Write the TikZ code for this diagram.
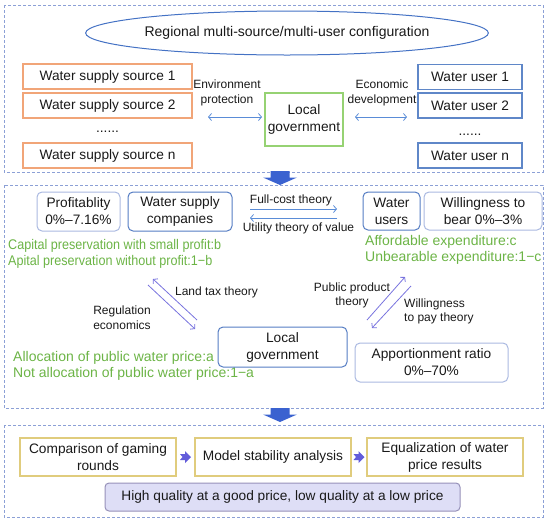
\documentclass[tikz,border=0pt]{standalone}
\usepackage{fontspec}
\setmainfont{Liberation Sans}
\newfontfamily\narrowsans[FakeStretch=0.9]{Liberation Sans}
\usetikzlibrary{positioning,arrows.meta,shapes.geometric,calc}
\definecolor{panelline}{RGB}{140,160,214}
\definecolor{ellblue}{RGB}{68,114,196}
\definecolor{srcorange}{RGB}{241,165,120}
\definecolor{userblue}{RGB}{95,135,200}
\definecolor{govgreen}{RGB}{150,210,115}
\definecolor{notegreen}{RGB}{108,180,70}
\definecolor{strongbox}{RGB}{85,125,195}
\definecolor{lightbox}{RGB}{170,185,225}
\definecolor{goldbox}{RGB}{224,204,125}
\definecolor{barfill}{RGB}{222,222,246}
\definecolor{barline}{RGB}{150,145,185}
\definecolor{bigblue}{RGB}{58,98,208}
\definecolor{stepblue}{RGB}{98,92,218}
\definecolor{linkblue}{RGB}{90,140,215}
\definecolor{diagblue}{RGB}{120,115,222}
\definecolor{inkgray}{RGB}{25,25,25}
\newcommand\boxfont{\fontsize{13.7}{17}\selectfont}
\newcommand\lblfont{\fontsize{12}{14.5}\selectfont}
\newcommand\notefont{\fontsize{14}{16}\selectfont}
\tikzset{
  panel/.style={draw=panelline, line width=0.9pt, dash pattern=on 3pt off 2pt},
  srcbox/.style={draw=srcorange, line width=1.1pt, minimum width=169, minimum height=25, inner sep=1pt, font=\boxfont, text=inkgray},
  userbox/.style={draw=userblue, line width=1.1pt, minimum width=104, minimum height=25, inner sep=1pt, font=\boxfont, text=inkgray},
  govbox/.style={draw=govgreen, line width=1.1pt, minimum width=78, minimum height=53, inner sep=1pt, align=center, font=\boxfont, text=inkgray},
  rbox/.style={draw=strongbox, line width=1pt, rounded corners=5pt, minimum height=39, inner sep=1pt, align=center, font=\boxfont, text=inkgray},
  lbox/.style={draw=lightbox, line width=1pt, rounded corners=5pt, minimum height=39, inner sep=1pt, align=center, font=\boxfont, text=inkgray},
  stepbox/.style={draw=goldbox, line width=1.1pt, minimum width=156, minimum height=38, inner sep=1pt, align=center, font=\boxfont, text=inkgray},
  dots/.style={anchor=base, inner sep=0pt, font=\boxfont, text=inkgray},
  lbl/.style={inner sep=0pt, align=center, font=\lblfont, text=inkgray},
  note/.style={anchor=west, inner sep=0pt, align=left, font=\notefont, text=notegreen},
  link/.style={draw=linkblue, line width=0.8pt, {Straight Barb[length=3pt,width=7pt]}-{Straight Barb[length=3pt,width=7pt]}},
  oneway/.style={draw=linkblue, line width=0.8pt, -{Straight Barb[length=3pt,width=7pt]}},
  diag/.style={draw=diagblue, line width=0.8pt, -{Straight Barb[length=3pt,width=7pt]}}
}
\newcommand\bigdown[1]{\fill[bigblue] ($(#1)+(-9.5,0)$) -- ++(19,0) -- ++(0,6.5) -- ++(7.5,0)
  -- ($(#1)+(0,14)$) -- ($(#1)+(-17,6.5)$) -- ++(7.5,0) -- cycle;}
\newcommand\stepto[2]{\coordinate (mid) at ($(#1)!0.5!(#2)$);
  \fill[stepblue] ($(mid)+(-5.5,-3)$) -- ++(5,0) -- ++(0,-3) -- ($(mid)+(5.5,0)$) -- ($(mid)+(-0.5,6)$)
  -- ++(0,-3) -- ++(-5,0) -- ($(mid)+(-3,0)$) -- cycle;}

\begin{document}
\begin{tikzpicture}[x=1pt,y=-1pt]
  \useasboundingbox (0,0) rectangle (550,523);
  \draw[panel] (4,5) rectangle (543,172);
  \node[ellipse, draw=ellblue, line width=1pt, minimum width=400, minimum height=44, inner sep=0pt,
    font=\fontsize{14}{17}\selectfont, text=inkgray] (config) at (287,33) {Regional multi-source/multi-user configuration};
  \node[srcbox] (src1) at (107.5,76.5) {Water supply source 1};
  \node[srcbox] (src2) at (107.5,105.5) {Water supply source 2};
  \node[dots] (srcdots) at (107.5,132) {......};
  \node[srcbox] (srcn) at (107.5,155.5) {Water supply source n};
  \node[govbox] (gov1) at (304,119.5) {Local\\government};
  \node[userbox] (user1) at (470,77) {Water user 1};
  \node[userbox] (user2) at (470,105.5) {Water user 2};
  \node[dots] (userdots) at (470,135) {......};
  \node[userbox] (usern) at (470,155.5) {Water user n};
  \node[lbl] (envlbl) at (227,93) {Environment\\protection};
  \node[lbl] (ecolbl) at (382,93) {Economic\\development};
  \coordinate (envL) at (208,117);
  \coordinate (envR) at (262,117);
  \coordinate (ecoL) at (355,117);
  \coordinate (ecoR) at (407,117);
  \draw[link] (envL) -- (envR);
  \draw[link] (ecoL) -- (ecoR);
  \coordinate (down1) at (280,171);
  \bigdown{down1}

  \draw[panel] (4,185) rectangle (543,408);
  \node[lbox, minimum width=83] (profit) at (78.5,211.5) {Profitablity\\0\%--7.16\%};
  \node[rbox, minimum width=104] (company) at (180,211.5) {Water supply\\companies};
  \node[rbox, minimum width=57, minimum height=38] (users) at (391.5,211) {Water\\users};
  \node[lbox, minimum width=118, minimum height=38] (willing) at (483,211) {Willingness to\\bear 0\%--3\%};
  \node[lbl] (fullcost) at (291,200) {Full-cost theory};
  \node[lbl] (utility) at (298.5,228) {Utility theory of value};
  \coordinate (fcL) at (250,209);
  \coordinate (fcR) at (337,209);
  \coordinate (utL) at (250,218);
  \coordinate (utR) at (337,218);
  \draw[oneway] (fcL) -- (fcR);
  \draw[oneway] (utR) -- (utL);
  \node[note, font=\narrowsans\fontsize{14}{16}\selectfont] (profnote) at (8,254) {Capital preservation with small profit:b\\Apital preservation without profit:1−b};
  \node[note] (usernote) at (365,250) {Affordable expenditure:c\\Unbearable expenditure:1−c};
  \node[note] (govnote) at (13,366) {Allocation of public water price:a\\Not allocation of public water price:1−a};
  \node[rbox, minimum width=129, minimum height=40] (gov2) at (282.5,347) {Local\\government};
  \node[lbox, minimum width=153] (share) at (431.5,362.5) {Apportionment ratio\\0\%--70\%};
  \node[lbl] (landtax) at (216.5,292) {Land tax theory};
  \node[lbl] (regecon) at (122,317.5) {Regulation\\economics};
  \node[lbl] (pubprod) at (352,295.5) {Public product\\theory};
  \node[lbl, anchor=west, align=left] (paytheory) at (404,311.5) {Willingness\\to pay theory};
  \coordinate (lup1) at (197,320);
  \coordinate (lup2) at (153,279);
  \coordinate (ldn1) at (148,285);
  \coordinate (ldn2) at (195,329);
  \coordinate (rup1) at (367,320);
  \coordinate (rup2) at (405,277);
  \coordinate (rdn1) at (411,286);
  \coordinate (rdn2) at (372,328);
  \draw[diag] (lup1) -- (lup2);
  \draw[diag] (ldn1) -- (ldn2);
  \draw[diag] (rup1) -- (rup2);
  \draw[diag] (rdn1) -- (rdn2);
  \coordinate (down2) at (280,408);
  \bigdown{down2}

  \draw[panel] (4,425) rectangle (543,517);
  \node[stepbox] (rounds) at (98,457) {Comparison of gaming\\rounds};
  \node[stepbox] (stable) at (273,457) {Model stability analysis};
  \node[stepbox] (equal) at (445,457) {Equalization of water\\price results};
  \stepto{rounds.east}{stable.west}
  \stepto{stable.east}{equal.west}
  \node[draw=barline, fill=barfill, line width=1pt, rounded corners=4pt, minimum width=355, minimum height=28,
    inner sep=1pt, font=\boxfont, text=inkgray] (motto) at (282.5,497) {High quality at a good price, low quality at a low price};
\end{tikzpicture}
\end{document}
